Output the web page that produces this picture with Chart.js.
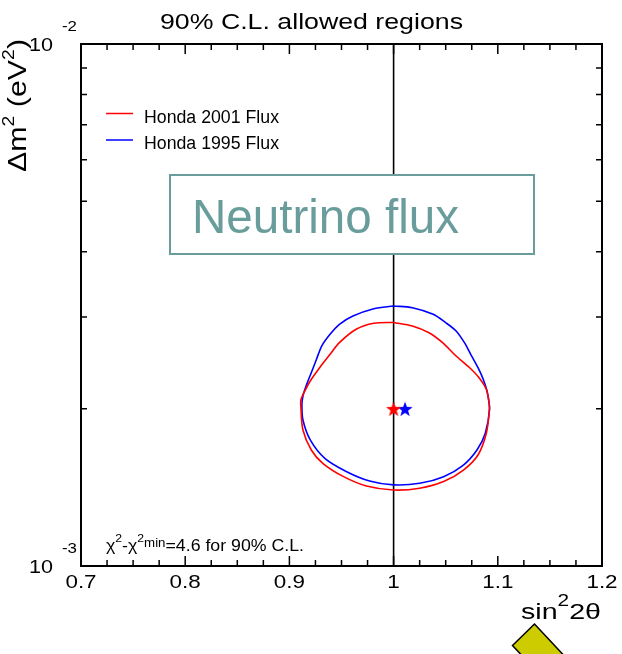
<!DOCTYPE html>
<html>
<head>
<meta charset="utf-8">
<title>90% C.L. allowed regions</title>
<script src="https://cdn.jsdelivr.net/npm/chart.js@4.4.0/dist/chart.umd.min.js"></script>
<style>
  html, body { margin: 0; padding: 0; background: #fff; }
  #chart { display: block; }
</style>
</head>
<body>
<canvas id="chart" width="622" height="654"></canvas>
<script>
/* ------------------- DATA ------------------- */
const TITLE = "90% C.L. allowed regions";
const SERIES_NAMES = ["Honda 2001 Flux", "Honda 1995 Flux"];
const SERIES_COLORS = ["#ff0000", "#0000ff"];
const BOX_TEXT = "Neutrino flux";

// Honda 2001 flux contour (sin^2 2θ, Δm^2 in eV^2)
const RED_X = [1.000, 1.018, 1.034, 1.047, 1.060, 1.073, 1.082, 1.089, 1.092, 1.092, 1.089, 1.081, 1.067, 1.048, 1.025, 1.000,
               0.974, 0.952, 0.932, 0.921, 0.913, 0.911, 0.911, 0.914, 0.920, 0.929, 0.939, 0.948, 0.964, 0.981, 1.000];
const RED_Y = [0.002928, 0.002883, 0.002798, 0.002678, 0.002525, 0.002398, 0.002295, 0.002180, 0.002025, 0.001990, 0.001796,
               0.001632, 0.001527, 0.001451, 0.001409, 0.001398, 0.001423, 0.001483, 0.001573, 0.001668, 0.001822, 0.002019,
               0.002080, 0.002148, 0.002262, 0.002398, 0.002544, 0.002678, 0.002841, 0.002917, 0.002928];

// Honda 1995 flux contour
const BLUE_X = [1.000, 1.018, 1.038, 1.050, 1.060, 1.068, 1.074, 1.081, 1.086, 1.090, 1.092, 1.088, 1.080, 1.067, 1.048, 1.025,
                1.000, 0.977, 0.955, 0.934, 0.920, 0.913, 0.912, 0.913, 0.916, 0.921, 0.926, 0.931, 0.939, 0.948, 0.961,
                0.981, 1.000];
const BLUE_Y = [0.003148, 0.003125, 0.003035, 0.002925, 0.002820, 0.002678, 0.002544, 0.002398, 0.002279, 0.002148, 0.001996,
                0.001796, 0.001668, 0.001561, 0.001483, 0.001440, 0.001430, 0.001455, 0.001516, 0.001608, 0.001744, 0.001904,
                0.002034, 0.002117, 0.002212, 0.002346, 0.002489, 0.002639, 0.002779, 0.002904, 0.003012, 0.003111, 0.003148];

// best fit points (2001, 1995)
const BEST_X = [1.000, 1.011];
const BEST_Y = [0.002, 0.002];

// physical boundary sin^2 2θ = 1
const BOUND_X = [1.0, 1.0];
const BOUND_Y = [0.001, 0.01];

const X_TICKS = [0.7, 0.8, 0.9, 1.0, 1.1, 1.2];
const X_TICK_LABELS = ["0.7", "0.8", "0.9", "1", "1.1", "1.2"];
const X_MINOR = [0.725, 0.75, 0.775, 0.825, 0.85, 0.875, 0.925, 0.95, 0.975, 1.025, 1.05, 1.075, 1.125, 1.15, 1.175];
const Y_TICKS = [0.001, 0.01];
const Y_TICK_EXP = ["-3", "-2"];
const Y_MINOR = [0.002, 0.003, 0.004, 0.005, 0.006, 0.007, 0.008, 0.009];

/* ------------------- HELPERS ------------------- */
const FONT = "'Liberation Sans', Arial, sans-serif";
const TEAL = "#699d9c";

const pts = (xs, ys) => xs.map((x, i) => ({ x, y: ys[i] }));

// runs: [text, fontSize, raise]; optional target width stretches horizontally
function drawRuns(ctx, x, y, runs, width) {
  let natural = 0;
  runs.forEach(([t, s]) => { ctx.font = `${s}px ${FONT}`; natural += ctx.measureText(t).width; });
  const sx = width ? width / natural : 1;
  ctx.save();
  ctx.translate(x, y);
  ctx.scale(sx, 1);
  ctx.textAlign = "left";
  ctx.textBaseline = "alphabetic";
  let cx = 0;
  runs.forEach(([t, s, up]) => {
    ctx.font = `${s}px ${FONT}`;
    ctx.fillText(t, cx, -(up || 0));
    cx += ctx.measureText(t).width;
  });
  ctx.restore();
}

function makeStar(color) {
  const c = document.createElement("canvas");
  c.width = 18; c.height = 18;
  const g = c.getContext("2d");
  g.beginPath();
  for (let i = 0; i < 10; i++) {
    const r = i % 2 ? 3.2 : 8;
    const a = -Math.PI / 2 + i * Math.PI / 5;
    g.lineTo(9 + r * Math.cos(a), 9.7 + r * Math.sin(a));
  }
  g.closePath();
  g.fillStyle = color;
  g.fill();
  return c;
}

/* ------------------- DECORATION PLUGIN ------------------- */
const framePlugin = {
  id: "frame",
  afterDraw(chart) {
    const { ctx, chartArea: a, scales: { x: xs, y: ys } } = chart;
    ctx.save();
    ctx.fillStyle = "#000";
    ctx.strokeStyle = "#000";

    // inward ticks
    ctx.lineWidth = 1.5;
    ctx.beginPath();
    const xTick = (v, len) => {
      const px = xs.getPixelForValue(v);
      ctx.moveTo(px, a.bottom); ctx.lineTo(px, a.bottom - len);
      ctx.moveTo(px, a.top); ctx.lineTo(px, a.top + len);
    };
    const yTick = (v, len) => {
      const py = ys.getPixelForValue(v);
      ctx.moveTo(a.left, py); ctx.lineTo(a.left + len, py);
      ctx.moveTo(a.right, py); ctx.lineTo(a.right - len, py);
    };
    X_TICKS.forEach(v => xTick(v, 10));
    X_MINOR.forEach(v => xTick(v, 6));
    Y_MINOR.forEach(v => yTick(v, 6));
    ctx.stroke();

    // frame
    ctx.lineWidth = 2;
    ctx.strokeRect(a.left, a.top, a.right - a.left, a.bottom - a.top);

    // x tick labels
    X_TICKS.forEach((v, i) => {
      const px = xs.getPixelForValue(v);
      ctx.font = `19px ${FONT}`;
      const w = ctx.measureText(X_TICK_LABELS[i]).width * 1.18;
      drawRuns(ctx, px - w / 2, 588, [[X_TICK_LABELS[i], 19]], w);
    });

    // y tick labels (10^-2, 10^-3)
    Y_TICKS.forEach((v, i) => {
      const py = ys.getPixelForValue(v);
      drawRuns(ctx, 29, py + 7, [["10", 19]], 24);
      drawRuns(ctx, 62, py - 13, [[Y_TICK_EXP[i], 14]], 15);
    });

    // title
    drawRuns(ctx, 160, 29, [[TITLE, 22]], 303);

    // axis titles
    drawRuns(ctx, 521, 619, [["sin", 22], ["2", 16, 13], ["2θ", 22]], 80);
    ctx.save();
    ctx.translate(26, 172);
    ctx.rotate(-Math.PI / 2);
    drawRuns(ctx, 0, 0, [["Δm", 25], ["2", 16, 12], [" (eV", 25], ["2", 16, 12], [")", 25]], 133);
    ctx.restore();

    // legend
    SERIES_NAMES.forEach((name, i) => {
      const ly = 113.5 + i * 26.5;
      ctx.strokeStyle = SERIES_COLORS[i];
      ctx.lineWidth = 1.5;
      ctx.beginPath();
      ctx.moveTo(106, ly); ctx.lineTo(133, ly);
      ctx.stroke();
      ctx.fillStyle = "#000";
      drawRuns(ctx, 144, ly + 9, [[name, 18]], 135);
    });

    // Neutrino flux box
    ctx.fillStyle = "#fff";
    ctx.fillRect(170, 175, 364, 79);
    ctx.strokeStyle = TEAL;
    ctx.lineWidth = 2;
    ctx.strokeRect(170, 175, 364, 79);
    ctx.fillStyle = TEAL;
    drawRuns(ctx, 192, 233, [[BOX_TEXT, 48]], 267);

    // chi2 note
    ctx.fillStyle = "#000";
    drawRuns(ctx, 106, 550.5, [["χ", 16], ["2", 11, 9], ["-χ", 16], ["2", 11, 9], ["min", 12, 4], ["=4.6 for 90% C.L.", 16]], 198);

    // yellow pointer
    ctx.beginPath();
    ctx.moveTo(534.5, 624);
    ctx.lineTo(512.5, 645.5);
    ctx.lineTo(535.5, 670);
    ctx.lineTo(577.5, 670);
    ctx.closePath();
    ctx.fillStyle = "#cccc00";
    ctx.fill();
    ctx.strokeStyle = "#000";
    ctx.lineWidth = 1.5;
    ctx.stroke();

    ctx.restore();
  }
};

/* ------------------- CHART ------------------- */
new Chart(document.getElementById("chart"), {
  type: "scatter",
  data: {
    datasets: [
      {
        label: "best 2001",
        data: [{ x: BEST_X[0], y: BEST_Y[0] }],
        pointStyle: makeStar(SERIES_COLORS[0]),
        pointRadius: 8,
        order: 0
      },
      {
        label: "best 1995",
        data: [{ x: BEST_X[1], y: BEST_Y[1] }],
        pointStyle: makeStar(SERIES_COLORS[1]),
        pointRadius: 8,
        order: 0
      },
      {
        label: SERIES_NAMES[0],
        data: pts(RED_X, RED_Y),
        showLine: true,
        borderColor: SERIES_COLORS[0],
        borderWidth: 1.6,
        pointRadius: 0,
        tension: 0.3,
        order: 1
      },
      {
        label: SERIES_NAMES[1],
        data: pts(BLUE_X, BLUE_Y),
        showLine: true,
        borderColor: SERIES_COLORS[1],
        borderWidth: 1.6,
        pointRadius: 0,
        tension: 0.3,
        order: 1
      },
      {
        label: "sin2 2theta = 1",
        data: pts(BOUND_X, BOUND_Y),
        showLine: true,
        borderColor: "#000",
        borderWidth: 1.6,
        pointRadius: 0,
        order: 2
      }
    ]
  },
  options: {
    responsive: false,
    animation: false,
    events: [],
    layout: { padding: { left: 81, right: 20, top: 44, bottom: 88 } },
    plugins: { legend: { display: false }, tooltip: { enabled: false }, title: { display: false } },
    scales: {
      x: { type: "linear", min: 0.7, max: 1.2, display: false },
      y: { type: "logarithmic", min: 0.001, max: 0.01, display: false }
    }
  },
  plugins: [framePlugin]
});
</script>
</body>
</html>
